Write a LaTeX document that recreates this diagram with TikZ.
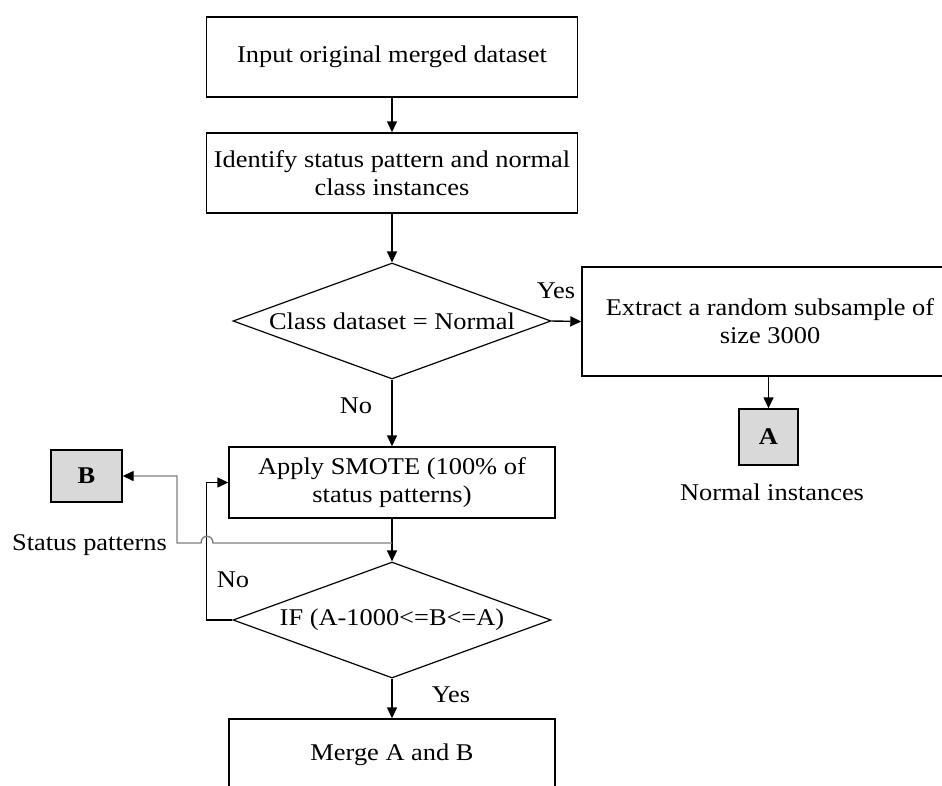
\documentclass[tikz,border=0pt]{standalone}
\usepackage{fontspec}
\setmainfont{Liberation Serif}[FakeStretch=1.1]
\usetikzlibrary{arrows.meta,shapes.geometric}
\begin{document}
\begin{tikzpicture}[x=1pt,y=-1pt,
  every node/.style={font=\fontsize{24}{28}\selectfont},
  procbox/.style={draw,line width=1.4pt,rectangle,align=center,inner sep=0pt},
  decbox/.style={draw,line width=1.2pt,diamond,aspect=2.75,inner sep=0pt,minimum width=318pt,minimum height=116pt},
  termbox/.style={draw,line width=1.4pt,rectangle,fill=black!15,inner sep=0pt,font=\fontsize{24}{28}\selectfont\bfseries},
  lbl/.style={inner sep=0pt},
  arr/.style={line width=1.4pt,-{Triangle[length=11pt,width=10pt]}},
  grayarr/.style={line width=1.4pt,draw=black!50,-{Triangle[length=11pt,width=10pt,color=black]}}
]
\useasboundingbox (0,0) rectangle (942,785);
\clip (0,0) rectangle (942,785);

\node[procbox,minimum width=371pt,minimum height=80pt] (b1) at (392,57) {Input original merged dataset};
\node[procbox,minimum width=371pt,minimum height=80pt] (b2) at (392,173) {Identify status pattern and normal\\class instances};
\node[decbox] (d1) at (392,321) {Class dataset = Normal};
\node[procbox,minimum width=376pt,minimum height=109pt] (b3) at (770,321.5) {Extract a random subsample of\\size 3000};
\node[termbox,minimum width=59pt,minimum height=56pt] (A) at (768.5,437) {A};
\node[lbl] (nA) at (772,492) {Normal instances};
\node[procbox,minimum width=326pt,minimum height=71pt] (sm) at (392,482.5) {Apply SMOTE (100\% of\\status patterns)};
\node[termbox,minimum width=71pt,minimum height=52pt] (B) at (86.5,476) {B};
\node[lbl] (sB) at (89.5,545) {Status patterns};
\node[decbox] (d2) at (392,620) {IF (A-1000<=B<=A)};
\node[procbox,minimum width=326pt,minimum height=72pt] (mg) at (392,755) {Merge A and B};

\node[lbl] (y1) at (556,291) {Yes};
\node[lbl] (n1) at (356,406) {No};
\node[lbl] (n2) at (233,580) {No};
\node[lbl] (y2) at (451,695) {Yes};

\draw[arr] (b1.south) -- (b2.north);
\draw[arr] (b2.south) -- (d1.north);
\draw[arr] (d1.east) -- (b3.west);
\draw[arr] (A.north |- b3.south) -- (A.north);
\draw[arr] (d1.south) -- (sm.north);
\draw[arr] (sm.south) -- (d2.north);
\draw[arr] (d2.south) -- (mg.north);
\draw[arr] (d2.west) -- ++(-26,0) |- (sm.west);
\coordinate (tap) at (392,543);
\draw[grayarr] (tap) -- ++(-179,0) .. controls +(0,-9) and +(0,-9) .. ++(-12,0) -- ++(-24,0) |- (B.east);
\end{tikzpicture}
\end{document}
